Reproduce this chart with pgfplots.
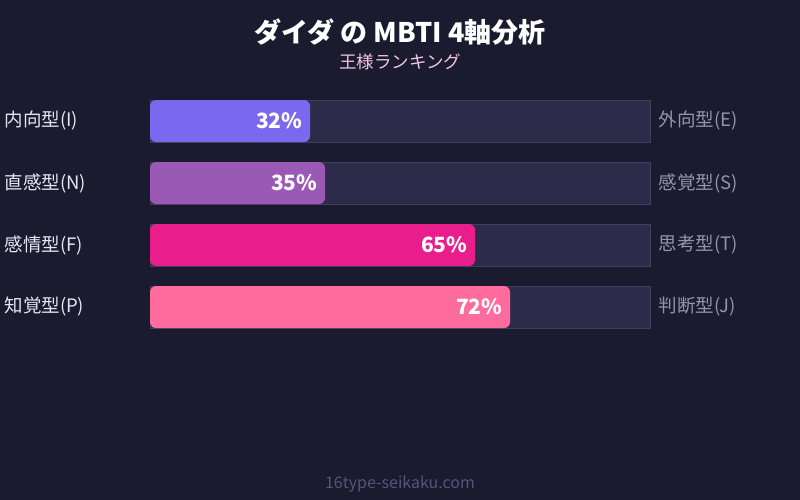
\documentclass[border=0pt]{standalone}
\usepackage{fontspec}
\setmainfont{Noto Sans CJK JP}
\usepackage{pgfplots}
\pgfplotsset{compat=1.18}

\definecolor{bg}{HTML}{1A1B2E}
\definecolor{track}{HTML}{2D2B4A}
\definecolor{trackedge}{HTML}{3F3D60}
\definecolor{leftlab}{HTML}{E6E6F2}
\definecolor{rightlab}{HTML}{9494AC}
\definecolor{subt}{HTML}{F3C4E4}
\definecolor{foot}{HTML}{55557A}
\definecolor{cI}{HTML}{7B68EE}
\definecolor{cN}{HTML}{9B59B6}
\definecolor{cF}{HTML}{E91E8C}
\definecolor{cP}{HTML}{FF6B9D}

\begin{document}
\begin{tikzpicture}[x=1pt,y=1pt]
\fill[bg] (0,0) rectangle (800,-500);
\node[font=\fontsize{27}{31}\selectfont\bfseries, text=white] at (400,-32) {ダイダ の MBTI 4軸分析};
\node[font=\fontsize{17.5}{20}\selectfont, text=subt] at (400,-62) {王様ランキング};
\node[font=\fontsize{16}{19}\selectfont, text=foot] at (400,-484) {16type-seikaku.com};

\begin{axis}[
    at={(150pt,-100pt)}, anchor=north west,
    scale only axis, width=500pt, height=228pt,
    xmin=0, xmax=100,
    ymin=-0.3387, ymax=3.3387, y dir=reverse,
    xbar, bar width=42pt, bar shift=0pt,
    axis line style={draw=none}, major tick length=0pt,
    xtick=\empty,
    ytick={0,1,2,3},
    yticklabels={内向型(I), 直感型(N), 感情型(F), 知覚型(P)},
    yticklabel style={anchor=west, xshift=-149pt, text=leftlab,
        font=\fontsize{18.5}{21}\selectfont},
    /pgf/number format/assume math mode=true,
    clip=false,
    every node near coord/.append style={anchor=east, xshift=-4pt,
        text=white, font=\fontsize{21}{24}\selectfont\bfseries},
]
\addplot[fill=track, draw=trackedge, line width=0.8pt]
    coordinates {(100,0) (100,1) (100,2) (100,3)};
\addplot[fill=cI, draw=none, rounded corners=6pt,
    nodes near coords={\pgfmathprintnumber{\pgfplotspointmeta}\%}]
    coordinates {(32,0)};
\addplot[fill=cN, draw=none, rounded corners=6pt,
    nodes near coords={\pgfmathprintnumber{\pgfplotspointmeta}\%}]
    coordinates {(35,1)};
\addplot[fill=cF, draw=none, rounded corners=6pt,
    nodes near coords={\pgfmathprintnumber{\pgfplotspointmeta}\%}]
    coordinates {(65,2)};
\addplot[fill=cP, draw=none, rounded corners=6pt,
    nodes near coords={\pgfmathprintnumber{\pgfplotspointmeta}\%}]
    coordinates {(72,3)};
\begin{scope}[every node/.style={anchor=west, text=rightlab,
        font=\fontsize{18.5}{21}\selectfont}]
\node at (axis cs:100,0) [xshift=5pt] {外向型(E)};
\node at (axis cs:100,1) [xshift=5pt] {感覚型(S)};
\node at (axis cs:100,2) [xshift=5pt] {思考型(T)};
\node at (axis cs:100,3) [xshift=5pt] {判断型(J)};
\end{scope}
\end{axis}
\end{tikzpicture}
\end{document}
